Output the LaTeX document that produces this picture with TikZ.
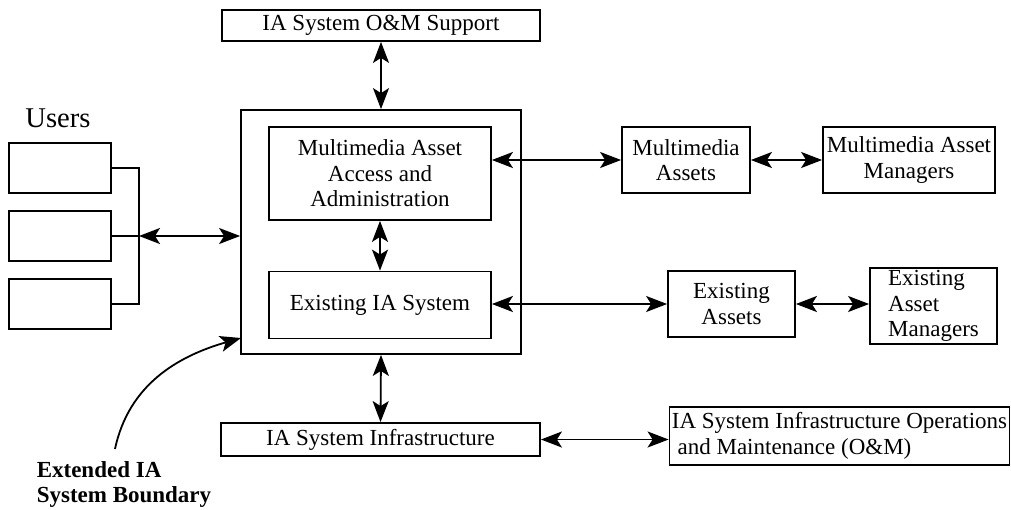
\documentclass[tikz,border=0pt]{standalone}
\usepackage{fontspec}
\setmainfont{Liberation Serif}
\usepackage{tikz}
\usetikzlibrary{arrows.meta,positioning,calc}
\tikzset{
  blk/.style={draw, line width=0.9pt, align=center, inner sep=1pt, minimum width=#1},
  blk/.default=60pt,
  dbl/.style={{Stealth[length=10.5pt,width=8pt,inset=2.5pt]}-{Stealth[length=10.5pt,width=8pt,inset=2.5pt]}, line width=0.9pt},
  arr/.style={-{Stealth[length=10.5pt,width=8pt,inset=2.5pt]}, line width=0.9pt},
  lnk/.style={line width=0.9pt},
}

\begin{document}
\begin{tikzpicture}[x=0.5pt, y=0.5pt, font=\fontsize{11.5}{12.8}\selectfont]
  \useasboundingbox (0,0) rectangle (1011,-509);

  % IA system and its boundary
  \node[blk=140pt, minimum height=122pt] (ext) at (381,-232) {};
  \node[blk=111pt, minimum height=46.5pt] (maa) at (380,-173.5) {Multimedia Asset\\Access and\\Administration};
  \node[blk=111pt, minimum height=33.5pt] (eis) at (380,-305) {Existing IA System};
  \node[blk=159pt, minimum height=15.5pt] (oms) at (381,-25.5) {IA System O\&M Support};
  \node[blk=159.5pt, minimum height=16.5pt] (inf) at (380.5,-439.5) {IA System Infrastructure};

  % assets and managers
  \node[blk=64pt, minimum height=33pt] (mma) at (686,-160) {Multimedia\\Assets};
  \node[blk=86pt, minimum height=33pt] (mam) at (909,-160) {Multimedia Asset\\Managers};
  \node[blk=63.5pt, minimum height=33pt] (exa) at (731.5,-304) {Existing\\Assets};
  \node[blk=63.5pt, minimum height=34pt, align=left] (eam) at (933.5,-306) {Existing\\Asset\\Managers};
  \node[blk=170pt, minimum height=29pt, align=left] (iom) at (839.5,-436) {IA System Infrastructure Operations\\\ and Maintenance (O\&M)};

  % users
  \node[font=\fontsize{14.3}{16}\selectfont] (usr) at (58,-118) {Users};
  \node[blk=51pt, minimum height=25pt] (u1) at (60,-168) {};
  \node[blk=51pt, minimum height=25pt] (u2) at (60,-236) {};
  \node[blk=51pt, minimum height=25pt] (u3) at (60,-304) {};
  \coordinate (j) at (139,-236);
  \draw[lnk] (u1.east) -| (j) |- (u3.east);
  \draw[lnk] (u2.east) -- (j);
  \draw[dbl] (j) -- (j -| ext.west);

  % connections
  \foreach \u/\v in {oms.south/ext.north, maa.south/eis.north, ext.south/inf.north, mma.east/mam.west}
    \draw[dbl] (\u) -- (\v);
  \draw[dbl] (mma.west -| maa.east) -- (mma.west);
  \draw[dbl] (exa.west -| eis.east) -- (exa.west);
  \draw[dbl] (exa.east) -- (exa.east -| eam.west);
  \draw[dbl] (inf.east) -- (inf.east -| iom.west);

  % boundary label
  \node[font=\fontsize{11.5}{12.5}\selectfont\bfseries, align=left] (bnd) at (124,-484) {Extended IA\\System Boundary};
  \coordinate (c0) at (115,-449);
  \coordinate (c1) at (241,-338);
  \draw[arr] (c0) to[out=78, in=196] (c1);
\end{tikzpicture}
\end{document}
